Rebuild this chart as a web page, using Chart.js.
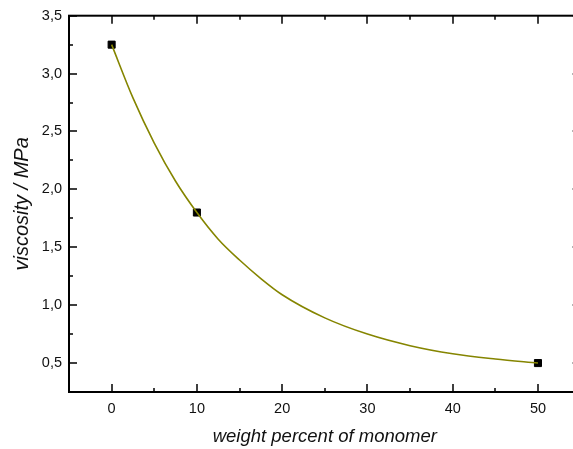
<!DOCTYPE html>
<html>
<head>
<meta charset="utf-8">
<script src="https://cdn.jsdelivr.net/npm/chart.js@4.4.1/dist/chart.umd.min.js"></script>
<style>
  html, body { margin: 0; padding: 0; background: #fff; overflow: hidden; }
  #wrap { width: 590px; height: 449px; }
</style>
</head>
<body>
<div id="wrap"><canvas id="chart" width="590" height="449"></canvas></div>
<script>
// measured points
const monomerPercent = [0, 10, 50];
const viscosity = [3.25, 1.8, 0.5];

// fitted curve
const fitX = [0, 2.5, 5, 7.5, 10, 12.5, 15, 17.5, 20, 25, 30, 35, 40, 45, 50];
const fitY = [3.25, 2.79, 2.40, 2.07, 1.80, 1.57, 1.39, 1.23, 1.09, 0.89, 0.75, 0.65, 0.58, 0.535, 0.50];

// axis ticks
const xTicks = [0, 10, 20, 30, 40, 50];
const yTicks = [0.5, 1.0, 1.5, 2.0, 2.5, 3.0, 3.5];

const FONT = "'Liberation Sans', Arial, sans-serif";

const toPoints = (xs, ys) => xs.map((x, i) => ({ x: x, y: ys[i] }));

// draws the box and inward ticks on all four sides (Origin style)
const frameTicks = {
    id: 'frameTicks',
    afterDraw(chart) {
        const { ctx, chartArea: a, scales: { x, y } } = chart;
        ctx.save();
        ctx.strokeStyle = '#000';

        const minors = (scale) => {
            const vals = scale.ticks.map(t => t.value);
            const step = vals[1] - vals[0];
            const out = [];
            for (let v = vals[0] - step / 2; v <= scale.max + 1e-9; v += step) {
                if (v >= scale.min - 1e-9) out.push(v);
            }
            return out;
        };

        ctx.lineWidth = 1.5;
        ctx.beginPath();
        x.ticks.forEach(t => {
            const px = Math.round(x.getPixelForValue(t.value));
            ctx.moveTo(px, a.bottom); ctx.lineTo(px, a.bottom - 8);
            ctx.moveTo(px, a.top); ctx.lineTo(px, a.top + 8);
        });
        minors(x).forEach(v => {
            const px = Math.round(x.getPixelForValue(v));
            ctx.moveTo(px, a.bottom); ctx.lineTo(px, a.bottom - 4);
            ctx.moveTo(px, a.top); ctx.lineTo(px, a.top + 4);
        });
        y.ticks.forEach(t => {
            const py = Math.round(y.getPixelForValue(t.value));
            ctx.moveTo(a.left, py); ctx.lineTo(a.left + 8, py);
            ctx.moveTo(a.right, py); ctx.lineTo(a.right - 8, py);
        });
        minors(y).forEach(v => {
            const py = Math.round(y.getPixelForValue(v));
            ctx.moveTo(a.left, py); ctx.lineTo(a.left + 4, py);
            ctx.moveTo(a.right, py); ctx.lineTo(a.right - 4, py);
        });
        ctx.stroke();

        ctx.lineWidth = 2;
        ctx.strokeRect(a.left, a.top, a.right - a.left, a.bottom - a.top);
        ctx.restore();
    }
};

new Chart(document.getElementById('chart'), {
    type: 'scatter',
    data: {
        datasets: [{
            label: 'fit',
            data: toPoints(fitX, fitY),
            showLine: true,
            borderColor: '#858500',
            borderWidth: 1.6,
            pointRadius: 0,
            cubicInterpolationMode: 'monotone',
            fill: false
        }, {
            label: 'viscosity',
            data: toPoints(monomerPercent, viscosity),
            pointStyle: 'rect',
            pointRadius: 5,
            backgroundColor: '#000',
            borderColor: '#000',
            borderWidth: 1
        }]
    },
    plugins: [frameTicks],
    options: {
        responsive: false,
        animation: false,
        events: [],
        layout: { padding: { left: 0, top: 14, right: 9.4, bottom: 0 } },
        plugins: {
            legend: { display: false },
            tooltip: { enabled: false }
        },
        scales: {
            x: {
                type: 'linear',
                min: -5,
                max: 55,
                afterBuildTicks: (scale) => { scale.ticks = xTicks.map(v => ({ value: v })); },
                afterFit: (scale) => { scale.height = 57; },
                grid: { display: false, drawTicks: false },
                border: { display: false },
                ticks: {
                    color: '#111',
                    padding: 8,
                    maxRotation: 0,
                    font: { family: FONT, size: 14.5 }
                },
                title: {
                    display: true,
                    text: 'weight percent of monomer',
                    color: '#111',
                    padding: { top: 0, bottom: 1 },
                    font: { family: FONT, size: 18.5, style: 'italic' }
                }
            },
            y: {
                type: 'linear',
                min: 0.25,
                max: 3.5,
                afterBuildTicks: (scale) => { scale.ticks = yTicks.map(v => ({ value: v })); },
                afterFit: (scale) => { scale.width = 69; },
                grid: { display: false, drawTicks: false },
                border: { display: false },
                ticks: {
                    color: '#111',
                    padding: 7,
                    font: { family: FONT, size: 14.5 },
                    callback: (v) => v.toFixed(1).replace('.', ',')
                },
                title: {
                    display: true,
                    text: 'viscosity / MPa',
                    color: '#111',
                    padding: { top: 10, bottom: 0 },
                    font: { family: FONT, size: 20, style: 'italic' }
                }
            }
        }
    }
});
</script>
</body>
</html>
